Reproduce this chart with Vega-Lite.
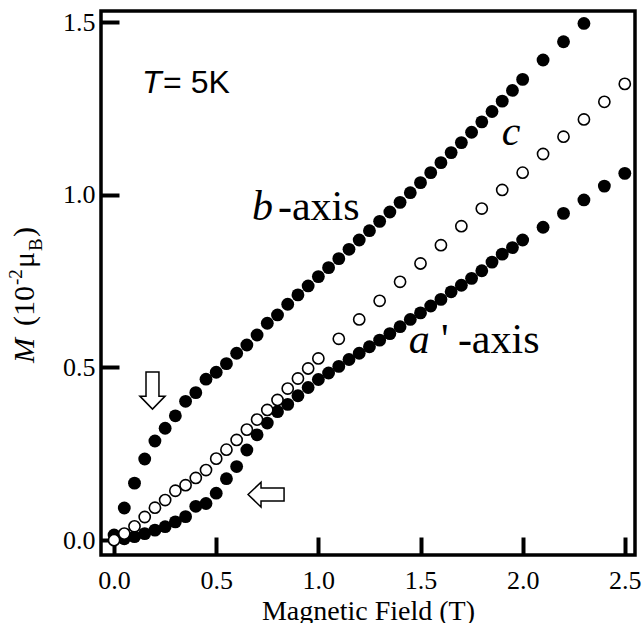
{
  "$schema": "https://vega.github.io/schema/vega-lite/v6.json",
  "width": 534,
  "height": 544,
  "autosize": {"type": "none"},
  "padding": {"left": 101, "top": 11, "right": 8, "bottom": 68},
  "background": "white",
  "config": {"view": {"stroke": "black", "strokeWidth": 3.5}, "axis": {"grid": false}},
  "datasets": {
    "pts": [
      {"series": "b", "field": 0.00, "m": 0.015},
      {"series": "b", "field": 0.05, "m": 0.093},
      {"series": "b", "field": 0.10, "m": 0.165},
      {"series": "b", "field": 0.15, "m": 0.235},
      {"series": "b", "field": 0.20, "m": 0.287},
      {"series": "b", "field": 0.25, "m": 0.324},
      {"series": "b", "field": 0.30, "m": 0.360},
      {"series": "b", "field": 0.35, "m": 0.402},
      {"series": "b", "field": 0.40, "m": 0.427},
      {"series": "b", "field": 0.45, "m": 0.466},
      {"series": "b", "field": 0.50, "m": 0.486},
      {"series": "b", "field": 0.55, "m": 0.511},
      {"series": "b", "field": 0.60, "m": 0.541},
      {"series": "b", "field": 0.65, "m": 0.565},
      {"series": "b", "field": 0.70, "m": 0.594},
      {"series": "b", "field": 0.75, "m": 0.628},
      {"series": "b", "field": 0.80, "m": 0.652},
      {"series": "b", "field": 0.85, "m": 0.683},
      {"series": "b", "field": 0.90, "m": 0.710},
      {"series": "b", "field": 0.95, "m": 0.736},
      {"series": "b", "field": 1.00, "m": 0.763},
      {"series": "b", "field": 1.05, "m": 0.789},
      {"series": "b", "field": 1.10, "m": 0.815},
      {"series": "b", "field": 1.15, "m": 0.842},
      {"series": "b", "field": 1.20, "m": 0.869},
      {"series": "b", "field": 1.25, "m": 0.896},
      {"series": "b", "field": 1.30, "m": 0.923},
      {"series": "b", "field": 1.35, "m": 0.950},
      {"series": "b", "field": 1.40, "m": 0.978},
      {"series": "b", "field": 1.45, "m": 1.006},
      {"series": "b", "field": 1.50, "m": 1.035},
      {"series": "b", "field": 1.55, "m": 1.064},
      {"series": "b", "field": 1.60, "m": 1.093},
      {"series": "b", "field": 1.65, "m": 1.122},
      {"series": "b", "field": 1.70, "m": 1.151},
      {"series": "b", "field": 1.75, "m": 1.181},
      {"series": "b", "field": 1.80, "m": 1.211},
      {"series": "b", "field": 1.85, "m": 1.241},
      {"series": "b", "field": 1.90, "m": 1.271},
      {"series": "b", "field": 1.95, "m": 1.302},
      {"series": "b", "field": 2.00, "m": 1.334},
      {"series": "b", "field": 2.10, "m": 1.390},
      {"series": "b", "field": 2.20, "m": 1.443},
      {"series": "b", "field": 2.30, "m": 1.496},
      {"series": "a", "field": 0.05, "m": 0.004},
      {"series": "a", "field": 0.10, "m": 0.010},
      {"series": "a", "field": 0.15, "m": 0.019},
      {"series": "a", "field": 0.20, "m": 0.029},
      {"series": "a", "field": 0.25, "m": 0.039},
      {"series": "a", "field": 0.30, "m": 0.053},
      {"series": "a", "field": 0.35, "m": 0.068},
      {"series": "a", "field": 0.40, "m": 0.098},
      {"series": "a", "field": 0.45, "m": 0.106},
      {"series": "a", "field": 0.50, "m": 0.136},
      {"series": "a", "field": 0.55, "m": 0.178},
      {"series": "a", "field": 0.60, "m": 0.213},
      {"series": "a", "field": 0.65, "m": 0.261},
      {"series": "a", "field": 0.70, "m": 0.305},
      {"series": "a", "field": 0.75, "m": 0.339},
      {"series": "a", "field": 0.80, "m": 0.372},
      {"series": "a", "field": 0.85, "m": 0.393},
      {"series": "a", "field": 0.90, "m": 0.418},
      {"series": "a", "field": 0.95, "m": 0.442},
      {"series": "a", "field": 1.00, "m": 0.465},
      {"series": "a", "field": 1.05, "m": 0.484},
      {"series": "a", "field": 1.10, "m": 0.503},
      {"series": "a", "field": 1.15, "m": 0.523},
      {"series": "a", "field": 1.20, "m": 0.541},
      {"series": "a", "field": 1.25, "m": 0.560},
      {"series": "a", "field": 1.30, "m": 0.579},
      {"series": "a", "field": 1.35, "m": 0.598},
      {"series": "a", "field": 1.40, "m": 0.618},
      {"series": "a", "field": 1.45, "m": 0.639},
      {"series": "a", "field": 1.50, "m": 0.658},
      {"series": "a", "field": 1.55, "m": 0.678},
      {"series": "a", "field": 1.60, "m": 0.697},
      {"series": "a", "field": 1.65, "m": 0.719},
      {"series": "a", "field": 1.70, "m": 0.738},
      {"series": "a", "field": 1.75, "m": 0.758},
      {"series": "a", "field": 1.80, "m": 0.780},
      {"series": "a", "field": 1.85, "m": 0.805},
      {"series": "a", "field": 1.90, "m": 0.828},
      {"series": "a", "field": 1.95, "m": 0.847},
      {"series": "a", "field": 2.00, "m": 0.869},
      {"series": "a", "field": 2.10, "m": 0.906},
      {"series": "a", "field": 2.20, "m": 0.946},
      {"series": "a", "field": 2.30, "m": 0.985},
      {"series": "a", "field": 2.40, "m": 1.025},
      {"series": "a", "field": 2.50, "m": 1.062},
      {"series": "c", "field": 0.00, "m": 0.000},
      {"series": "c", "field": 0.05, "m": 0.019},
      {"series": "c", "field": 0.10, "m": 0.040},
      {"series": "c", "field": 0.15, "m": 0.067},
      {"series": "c", "field": 0.20, "m": 0.094},
      {"series": "c", "field": 0.25, "m": 0.116},
      {"series": "c", "field": 0.30, "m": 0.143},
      {"series": "c", "field": 0.35, "m": 0.159},
      {"series": "c", "field": 0.40, "m": 0.180},
      {"series": "c", "field": 0.45, "m": 0.203},
      {"series": "c", "field": 0.50, "m": 0.236},
      {"series": "c", "field": 0.55, "m": 0.262},
      {"series": "c", "field": 0.60, "m": 0.290},
      {"series": "c", "field": 0.65, "m": 0.320},
      {"series": "c", "field": 0.70, "m": 0.349},
      {"series": "c", "field": 0.75, "m": 0.377},
      {"series": "c", "field": 0.80, "m": 0.406},
      {"series": "c", "field": 0.85, "m": 0.439},
      {"series": "c", "field": 0.90, "m": 0.468},
      {"series": "c", "field": 0.95, "m": 0.497},
      {"series": "c", "field": 1.00, "m": 0.526},
      {"series": "c", "field": 1.10, "m": 0.583},
      {"series": "c", "field": 1.20, "m": 0.639},
      {"series": "c", "field": 1.30, "m": 0.693},
      {"series": "c", "field": 1.40, "m": 0.748},
      {"series": "c", "field": 1.50, "m": 0.801},
      {"series": "c", "field": 1.60, "m": 0.854},
      {"series": "c", "field": 1.70, "m": 0.909},
      {"series": "c", "field": 1.80, "m": 0.960},
      {"series": "c", "field": 1.90, "m": 1.014},
      {"series": "c", "field": 2.00, "m": 1.064},
      {"series": "c", "field": 2.10, "m": 1.118},
      {"series": "c", "field": 2.20, "m": 1.168},
      {"series": "c", "field": 2.30, "m": 1.218},
      {"series": "c", "field": 2.40, "m": 1.269},
      {"series": "c", "field": 2.50, "m": 1.321}
    ],
    "ann": [
      {"grp": "si", "x": 0.675, "y": 0.927, "t": "b"},
      {"grp": "sn", "x": 0.802, "y": 0.927, "t": "-axis"},
      {"grp": "si", "x": 1.898, "y": 1.144, "t": "c"},
      {"grp": "si", "x": 1.443, "y": 0.5416, "t": "a"},
      {"grp": "sn", "x": 1.600, "y": 0.5416, "t": "'"},
      {"grp": "sn", "x": 1.683, "y": 0.5416, "t": "-axis"},
      {"grp": "hi", "x": 0.137, "y": 1.2945, "t": "T"},
      {"grp": "hn", "x": 0.240, "y": 1.2945, "t": "=  5K"},
      {"grp": "ti", "x": -0.391, "y": 0.5126, "t": "M"},
      {"grp": "tn", "x": -0.391, "y": 0.6200, "t": "(10"},
      {"grp": "ts", "x": -0.450, "y": 0.7385, "t": "-2"},
      {"grp": "tn", "x": -0.391, "y": 0.7880, "t": "μ"},
      {"grp": "ts", "x": -0.352, "y": 0.8370, "t": "B"},
      {"grp": "tn", "x": -0.391, "y": 0.8775, "t": ")"}
    ],
    "arrows": [
      {"dir": "down", "x": 0.188, "y": 0.433},
      {"dir": "left", "x": 0.744, "y": 0.132}
    ]
  },
  "layer": [
    {"data": {"name": "pts"}, "transform": [{"filter": "datum.series !== 'c'"}],
      "mark": {"type": "point", "shape": "circle", "filled": true, "size": 165, "color": "black", "opacity": 1},
      "encoding": {
        "x": {"field": "field", "type": "quantitative",
          "scale": {"domain": [-0.064, 2.55], "nice": false, "zero": false},
          "axis": {"values": [0, 0.5, 1, 1.5, 2, 2.5], "format": ".1f", "offset": -18, "ticks": true, "tickSize": 18, "tickWidth": 4, "tickColor": "black",
            "domain": false, "labelFont": "Liberation Serif", "labelFontSize": 26, "labelColor": "black",
            "labelPadding": 12, "title": "Magnetic Field (T)", "titleFont": "Liberation Serif", "titleFontSize": 28,
            "titleFontWeight": "normal", "titleColor": "black", "titlePadding": 4}},
        "y": {"field": "m", "type": "quantitative",
          "scale": {"domain": [-0.043, 1.532], "nice": false, "zero": false},
          "axis": {"values": [0, 0.5, 1, 1.5], "format": ".1f", "offset": -18, "ticks": true, "tickSize": 18, "tickWidth": 4, "tickColor": "black",
            "domain": false, "labelFont": "Liberation Serif", "labelFontSize": 26, "labelColor": "black",
            "labelPadding": 6, "title": null}}
      }},
    {"data": {"name": "pts"}, "transform": [{"filter": "datum.series === 'c'"}],
      "mark": {"type": "point", "shape": "circle", "filled": false, "fill": "white", "fillOpacity": 1, "size": 125, "stroke": "black", "strokeWidth": 1.6, "opacity": 1},
      "encoding": {"x": {"field": "field", "type": "quantitative"}, "y": {"field": "m", "type": "quantitative"}}},
    {"data": {"name": "arrows"}, "transform": [{"filter": "datum.dir === 'down'"}],
      "mark": {"type": "point", "shape": "M -0.35 -1 L 0.35 -1 L 0.35 0.3 L 0.68 0.3 L 0 1 L -0.68 0.3 L -0.35 0.3 Z", "size": 1369, "filled": false, "fill": "white", "fillOpacity": 1, "stroke": "black", "strokeWidth": 1.5, "opacity": 1},
      "encoding": {"x": {"field": "x", "type": "quantitative"}, "y": {"field": "y", "type": "quantitative"}}},
    {"data": {"name": "arrows"}, "transform": [{"filter": "datum.dir === 'left'"}],
      "mark": {"type": "point", "shape": "M -1 0 L -0.28 -0.69 L -0.28 -0.36 L 1 -0.36 L 1 0.36 L -0.28 0.36 L -0.28 0.69 Z", "size": 1296, "filled": false, "fill": "white", "fillOpacity": 1, "stroke": "black", "strokeWidth": 1.5, "opacity": 1},
      "encoding": {"x": {"field": "x", "type": "quantitative"}, "y": {"field": "y", "type": "quantitative"}}},
    {"data": {"name": "ann"}, "transform": [{"filter": "datum.grp === 'si'"}],
      "mark": {"type": "text", "font": "Liberation Serif", "fontStyle": "italic", "fontSize": 42, "align": "left", "baseline": "alphabetic", "color": "black"},
      "encoding": {"x": {"field": "x", "type": "quantitative"}, "y": {"field": "y", "type": "quantitative"}, "text": {"field": "t"}}},
    {"data": {"name": "ann"}, "transform": [{"filter": "datum.grp === 'sn'"}],
      "mark": {"type": "text", "font": "Liberation Serif", "fontSize": 42, "align": "left", "baseline": "alphabetic", "color": "black"},
      "encoding": {"x": {"field": "x", "type": "quantitative"}, "y": {"field": "y", "type": "quantitative"}, "text": {"field": "t"}}},
    {"data": {"name": "ann"}, "transform": [{"filter": "datum.grp === 'hi'"}],
      "mark": {"type": "text", "font": "Liberation Sans", "fontStyle": "italic", "fontSize": 32, "align": "left", "baseline": "alphabetic", "color": "black"},
      "encoding": {"x": {"field": "x", "type": "quantitative"}, "y": {"field": "y", "type": "quantitative"}, "text": {"field": "t"}}},
    {"data": {"name": "ann"}, "transform": [{"filter": "datum.grp === 'hn'"}],
      "mark": {"type": "text", "font": "Liberation Sans", "fontSize": 32, "align": "left", "baseline": "alphabetic", "color": "black"},
      "encoding": {"x": {"field": "x", "type": "quantitative"}, "y": {"field": "y", "type": "quantitative"}, "text": {"field": "t"}}},
    {"data": {"name": "ann"}, "transform": [{"filter": "datum.grp === 'ti'"}],
      "mark": {"type": "text", "font": "Liberation Serif", "fontStyle": "italic", "fontSize": 30, "angle": 270, "align": "left", "baseline": "alphabetic", "color": "black"},
      "encoding": {"x": {"field": "x", "type": "quantitative"}, "y": {"field": "y", "type": "quantitative"}, "text": {"field": "t"}}},
    {"data": {"name": "ann"}, "transform": [{"filter": "datum.grp === 'tn'"}],
      "mark": {"type": "text", "font": "Liberation Serif", "fontSize": 30, "angle": 270, "align": "left", "baseline": "alphabetic", "color": "black"},
      "encoding": {"x": {"field": "x", "type": "quantitative"}, "y": {"field": "y", "type": "quantitative"}, "text": {"field": "t"}}},
    {"data": {"name": "ann"}, "transform": [{"filter": "datum.grp === 'ts'"}],
      "mark": {"type": "text", "font": "Liberation Serif", "fontSize": 19, "angle": 270, "align": "left", "baseline": "alphabetic", "color": "black"},
      "encoding": {"x": {"field": "x", "type": "quantitative"}, "y": {"field": "y", "type": "quantitative"}, "text": {"field": "t"}}}
  ]
}
